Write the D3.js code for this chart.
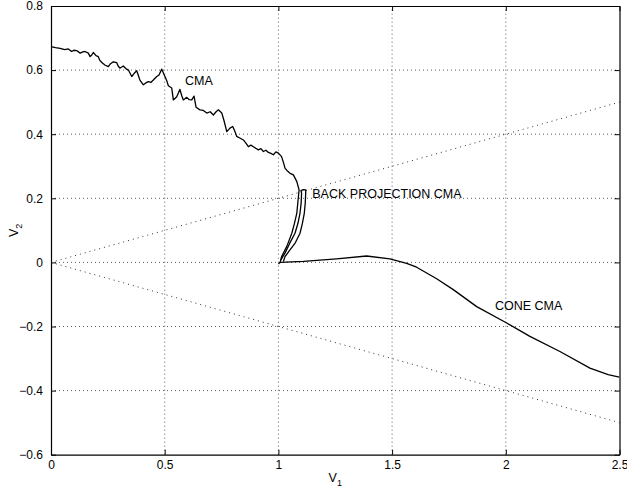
<!DOCTYPE html>
<html><head><meta charset="utf-8">
<script src="https://cdn.jsdelivr.net/npm/d3@7"></script>
<style>body{margin:0;background:#fff}svg{display:block}</style>
</head><body>
<script>
const xTicks = [0, 0.5, 1, 1.5, 2, 2.5];
const yTicks = [-0.6, -0.4, -0.2, 0, 0.2, 0.4, 0.6, 0.8];
const cmaX = [0,0.02,0.04,0.06,0.076,0.091,0.1,0.113,0.128,0.14,0.15,0.164,0.172,0.18,0.186,0.198,0.208,0.215,0.226,0.237,0.252,0.262,0.274,0.289,0.296,0.303,0.318,0.33,0.34,0.355,0.366,0.377,0.391,0.406,0.417,0.428,0.44,0.45,0.465,0.475,0.487,0.501,0.51,0.516,0.531,0.538,0.553,0.567,0.575,0.582,0.597,0.607,0.619,0.629,0.638,0.655,0.67,0.685,0.7,0.714,0.726,0.736,0.751,0.761,0.773,0.787,0.799,0.808,0.817,0.83,0.846,0.857,0.868,0.879,0.89,0.9,0.912,0.923,0.934,0.945,0.956,0.967,0.978,0.989,1.0,1.014,1.022,1.029,1.04,1.051,1.066,1.081,1.091,1.088,1.081,1.07,1.059,1.037,1.014,1.007];
const cmaY = [0.673,0.670,0.668,0.664,0.666,0.658,0.662,0.661,0.653,0.657,0.658,0.653,0.642,0.648,0.655,0.645,0.642,0.630,0.622,0.616,0.611,0.620,0.626,0.623,0.612,0.606,0.613,0.604,0.601,0.580,0.590,0.598,0.569,0.554,0.560,0.564,0.562,0.569,0.580,0.585,0.603,0.580,0.565,0.551,0.544,0.507,0.517,0.540,0.520,0.507,0.515,0.508,0.507,0.519,0.484,0.476,0.474,0.466,0.470,0.460,0.470,0.476,0.466,0.442,0.408,0.419,0.424,0.410,0.393,0.388,0.382,0.372,0.361,0.366,0.361,0.356,0.351,0.355,0.346,0.350,0.343,0.340,0.336,0.345,0.341,0.330,0.312,0.294,0.285,0.278,0.273,0.252,0.226,0.205,0.154,0.120,0.091,0.050,0.018,-0.002];
const backX = [1.011,1.029,1.05,1.073,1.086,1.095,1.100,1.102,1.099,1.110,1.120,1.120,1.118,1.114,1.105,1.095,1.075,1.051,1.029,1.022];
const backY = [0.008,0.029,0.060,0.091,0.122,0.154,0.185,0.216,0.224,0.227,0.226,0.216,0.185,0.154,0.120,0.091,0.062,0.039,0.018,0.003];
const coneX = [1.0,1.007,1.11,1.256,1.388,1.49,1.564,1.608,1.696,1.769,1.872,2.004,2.106,2.238,2.37,2.45,2.499];
const coneY = [-0.005,0.0,0.003,0.011,0.020,0.011,-0.003,-0.015,-0.051,-0.085,-0.138,-0.189,-0.231,-0.278,-0.330,-0.350,-0.358];
const coneBoundX = [0, 2.5];
const coneUpperY = [0, 0.5];
const coneLowerY = [0, -0.5];
const labels = [
  {text:"CMA", x:0.589, y:0.554},
  {text:"BACK PROJECTION CMA", x:1.149, y:0.200},
  {text:"CONE CMA", x:1.952, y:-0.150}
];

const W = 627, H = 490;
const m = {left:51, right:7.5, top:6, bottom:35.3};
const svg = d3.select("body").append("svg").attr("width", W).attr("height", H)
  .style("font-family", "Liberation Sans, Arial, Helvetica, sans-serif");
const x = d3.scaleLinear().domain([0, 2.5]).range([m.left, W - m.right]);
const y = d3.scaleLinear().domain([-0.6, 0.8]).range([H - m.bottom, m.top]);
const fmt = d => (d < 0 ? "\u2212" : "") + String(Math.abs(+d.toFixed(1)));

// grid
const g = svg.append("g");
g.selectAll("line.gx").data(xTicks.slice(1, -1)).join("line")
  .attr("x1", d => x(d)).attr("x2", d => x(d)).attr("y1", y(-0.6)).attr("y2", y(0.8))
  .attr("stroke", "#333").attr("stroke-width", 0.8).attr("stroke-dasharray", "1,3");
g.selectAll("line.gy").data(yTicks.slice(1, -1)).join("line")
  .attr("y1", d => y(d)).attr("y2", d => y(d)).attr("x1", x(0)).attr("x2", x(2.5))
  .attr("stroke", "#333").attr("stroke-width", 0.8).attr("stroke-dasharray", "1,3");

// cone boundaries
const line = d3.line().x(d => x(d[0])).y(d => y(d[1]));
[coneUpperY, coneLowerY].forEach(ys => {
  svg.append("path").datum(coneBoundX.map((v, i) => [v, ys[i]])).attr("d", line)
    .attr("fill", "none").attr("stroke", "#000").attr("stroke-width", 0.8).attr("stroke-dasharray", "1,4");
});

// axes
const axB = svg.append("g").attr("transform", `translate(0,${y(-0.6)})`)
  .call(d3.axisBottom(x).tickValues(xTicks).tickFormat(fmt).tickSizeInner(-5).tickSizeOuter(0).tickPadding(6));
const axL = svg.append("g").attr("transform", `translate(${x(0)},0)`)
  .call(d3.axisLeft(y).tickValues(yTicks).tickFormat(fmt).tickSizeInner(-5).tickSizeOuter(0).tickPadding(8));
const axT = svg.append("g").attr("transform", `translate(0,${y(0.8)})`)
  .call(d3.axisTop(x).tickValues(xTicks).tickFormat("").tickSizeInner(-5).tickSizeOuter(0));
const axR = svg.append("g").attr("transform", `translate(${x(2.5)},0)`)
  .call(d3.axisRight(y).tickValues(yTicks).tickFormat("").tickSizeInner(-5).tickSizeOuter(0));
[axB, axL, axT, axR].forEach(a => {
  a.select(".domain").attr("stroke", "#000").attr("stroke-width", 1.2);
  a.selectAll(".tick line").attr("stroke", "#000");
  a.selectAll("text").attr("font-size", 12).attr("fill", "#000").attr("font-family", "Liberation Sans, Arial, sans-serif");
});

// series
const curve = (xs, ys) => xs.map((v, i) => [v, ys[i]]);
[[cmaX, cmaY], [backX, backY], [coneX, coneY]].forEach(([xs, ys]) => {
  svg.append("path").datum(curve(xs, ys)).attr("d", line)
    .attr("fill", "none").attr("stroke", "#000").attr("stroke-width", 1.3).attr("stroke-linejoin", "round");
});

// labels
svg.selectAll("text.lbl").data(labels).join("text").attr("class", "lbl")
  .attr("x", d => x(d.x)).attr("y", d => y(d.y)).attr("font-size", 12.5).attr("fill", "#000")
  .text(d => d.text);

// axis titles
const xt = svg.append("text").attr("x", (x(0) + x(2.5)) / 2).attr("y", 482).attr("font-size", 12.5).attr("text-anchor", "middle");
xt.append("tspan").text("V");
xt.append("tspan").attr("dy", 4).attr("font-size", 9).text("1");
const yt = svg.append("text").attr("transform", `translate(18,${(y(-0.6) + y(0.8)) / 2}) rotate(-90)`).attr("font-size", 12.5).attr("text-anchor", "middle");
yt.append("tspan").text("V");
yt.append("tspan").attr("dy", 4).attr("font-size", 9).text("2");
</script>
</body></html>
